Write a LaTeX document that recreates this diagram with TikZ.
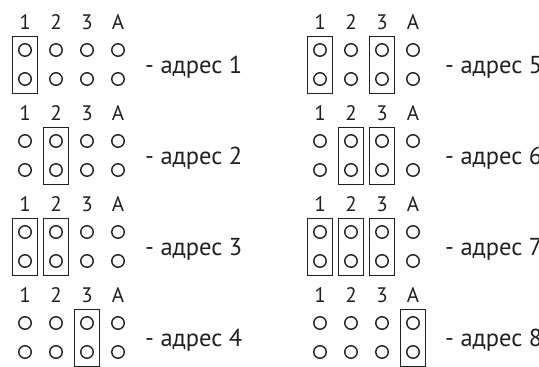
\documentclass[tikz,border=0pt]{standalone}
\usepackage{fontspec}
\setmainfont{PT Sans}
\definecolor{ink}{HTML}{231F20}
\begin{document}
\begin{tikzpicture}[x=1pt,y=-1pt,
  pin/.style={circle,draw=ink,line width=1.4pt,minimum size=12.5pt,inner sep=0pt},
  jbox/.style={rectangle,draw=ink,line width=1.6pt,minimum width=25pt,minimum height=57pt,inner sep=0pt},
  lbl/.style={anchor=base,font=\fontsize{21}{21}\selectfont,text=ink,inner sep=0pt},
  addr/.style={anchor=base west,font=\fontsize{24.5}{24.5}\selectfont,text=ink,inner sep=0pt}]
\useasboundingbox (0,0) rectangle (539,367);
\foreach \n/\jl in {1/{1},2/{2},3/{1,2},4/{3},5/{1,3},6/{2,3},7/{1,2,3},8/{4}} {
  \pgfmathtruncatemacro\g{int((\n-1)/4)}
  \pgfmathtruncatemacro\k{mod(\n-1,4)}
  \pgfmathsetmacro\xo{25+295*\g}
  \pgfmathsetmacro\yo{50+91*\k}
  \foreach \c/\t in {1/1,2/2,3/3,4/A} {
    \node[lbl] (l\n-\c) at ({\xo+31*(\c-1)},{\yo-21}) {\t};
    \node[pin] (p\n-\c-a) at ({\xo+31*(\c-1)},{\yo}) {};
    \node[pin] (p\n-\c-b) at ({\xo+31*(\c-1)},{\yo+29}) {};
  }
  \foreach \c in \jl {
    \node[jbox] (j\n-\c) at ({\xo+31*(\c-1)},{\yo+15}) {};
  }
  \node[addr] (t\n) at ({\xo+120+5*\g},{\yo+23}) {- адрес \n};
}
\end{tikzpicture}
\end{document}
